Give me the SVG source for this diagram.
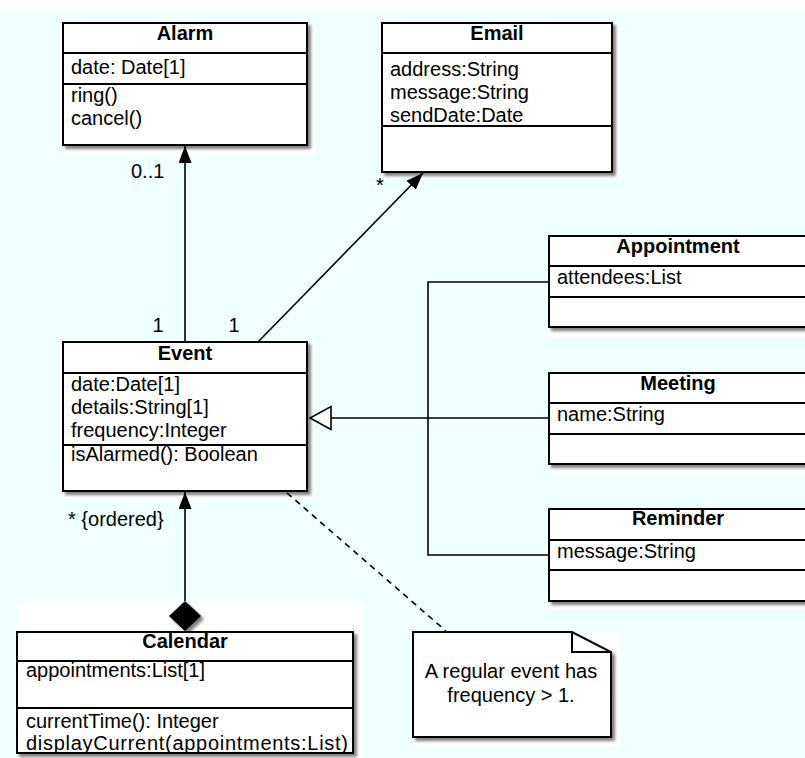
<svg xmlns="http://www.w3.org/2000/svg" width="805" height="758" viewBox="0 0 805 758">
<style>
.bg{fill:#ffffff}
.box{fill:#ffffff;stroke:#000;stroke-width:2}
.div{stroke:#000;stroke-width:2}
.t{font-family:"Liberation Sans",Arial,Helvetica,sans-serif;font-size:20px;fill:#000}
.b{font-weight:bold;text-anchor:middle}
.c{text-anchor:middle}
.ln{stroke:#000;stroke-width:1.6;fill:none}
.dash{stroke:#000;stroke-width:1.6;fill:none;stroke-dasharray:6 5}
</style>
<defs>
<filter id="sh" x="-10%" y="-10%" width="130%" height="130%">
<feDropShadow dx="3" dy="3" stdDeviation="1.8" flood-color="#000" flood-opacity="0.5"/>
</filter>
<marker id="arr" markerUnits="userSpaceOnUse" markerWidth="18" markerHeight="14" refX="17" refY="6.5" orient="auto">
<path d="M0,0 L17,6.5 L0,13 z" fill="#000"/>
</marker>
<marker id="tri" markerUnits="userSpaceOnUse" markerWidth="24" markerHeight="26" refX="22" refY="12.5" orient="auto">
<path d="M1,1 L22,12.5 L1,24 z" fill="#fff" stroke="#000" stroke-width="1.6"/>
</marker>
</defs>
<rect x="0" y="0" width="805" height="758" fill="#ffffff"/>
<rect x="0" y="11" width="805" height="747" fill="#f0ffff"/>
<rect class="bg" x="63" y="23" width="251" height="133"/>
<rect class="bg" x="382" y="23" width="237" height="155"/>
<rect class="bg" x="63" y="342" width="251" height="157"/>
<rect class="bg" x="549" y="236" width="256" height="101"/>
<rect class="bg" x="549" y="373" width="256" height="101"/>
<rect class="bg" x="549" y="509" width="256" height="100"/>
<rect class="bg" x="18" y="601" width="344" height="157"/>
<rect class="bg" x="413" y="632" width="207" height="115"/>

<g id="connectors">
<line class="ln" x1="185" y1="342" x2="185" y2="146" marker-end="url(#arr)"/>
<line class="ln" x1="258" y1="342" x2="423" y2="173" marker-end="url(#arr)"/>
<line class="ln" x1="185" y1="601" x2="185" y2="492" marker-end="url(#arr)"/>
<polygon points="185,601 201,616 185,631 169,616" fill="#000" filter="url(#sh)"/>
<line class="ln" x1="549" y1="418" x2="310" y2="418" marker-end="url(#tri)"/>
<polyline class="ln" points="549,282 428,282 428,555 549,555"/>
<line class="dash" x1="287" y1="493" x2="446" y2="631"/>
<text class="t" x="131" y="178">0..1</text>
<text class="t" x="376" y="192">*</text>
<text class="t c" x="158" y="332">1</text>
<text class="t c" x="234" y="332">1</text>
<text class="t" x="68" y="526">* {ordered}</text>
</g>

<g id="alarm">
<rect class="box" x="63" y="23" width="244" height="122" filter="url(#sh)"/>
<line class="div" x1="63" y1="53" x2="307" y2="53"/>
<line class="div" x1="63" y1="84" x2="307" y2="84"/>
<text class="t b" x="185" y="40">Alarm</text>
<text class="t" x="71" y="74">date: Date[1]</text>
<text class="t" x="71" y="102">ring()</text>
<text class="t" x="71" y="125">cancel()</text>
</g>

<g id="email">
<rect class="box" x="382" y="23" width="230" height="149" filter="url(#sh)"/>
<line class="div" x1="382" y1="53" x2="612" y2="53"/>
<line class="div" x1="382" y1="126" x2="612" y2="126"/>
<text class="t b" x="497" y="40">Email</text>
<text class="t" x="390" y="76">address:String</text>
<text class="t" x="390" y="99">message:String</text>
<text class="t" x="390" y="122">sendDate:Date</text>
</g>

<g id="event">
<rect class="box" x="63" y="342" width="244" height="149" filter="url(#sh)"/>
<line class="div" x1="63" y1="373" x2="307" y2="373"/>
<line class="div" x1="63" y1="445" x2="307" y2="445"/>
<text class="t b" x="185" y="360">Event</text>
<text class="t" x="71" y="391">date:Date[1]</text>
<text class="t" x="71" y="414">details:String[1]</text>
<text class="t" x="71" y="437">frequency:Integer</text>
<text class="t" x="71" y="461">isAlarmed(): Boolean</text>
</g>

<g id="appointment">
<rect class="box" x="549" y="236" width="258" height="91" filter="url(#sh)"/>
<line class="div" x1="549" y1="266" x2="807" y2="266"/>
<line class="div" x1="549" y1="297" x2="807" y2="297"/>
<text class="t b" x="678" y="253">Appointment</text>
<text class="t" x="557" y="284">attendees:List</text>
</g>

<g id="meeting">
<rect class="box" x="549" y="373" width="258" height="91" filter="url(#sh)"/>
<line class="div" x1="549" y1="403" x2="807" y2="403"/>
<line class="div" x1="549" y1="434" x2="807" y2="434"/>
<text class="t b" x="678" y="390">Meeting</text>
<text class="t" x="557" y="421">name:String</text>
</g>

<g id="reminder">
<rect class="box" x="549" y="509" width="258" height="92" filter="url(#sh)"/>
<line class="div" x1="549" y1="540" x2="807" y2="540"/>
<line class="div" x1="549" y1="570" x2="807" y2="570"/>
<text class="t b" x="678" y="525">Reminder</text>
<text class="t" x="557" y="558">message:String</text>
</g>

<g id="calendar">
<rect class="box" x="17" y="632" width="336" height="121" filter="url(#sh)"/>
<line class="div" x1="17" y1="661" x2="353" y2="661"/>
<line class="div" x1="17" y1="708" x2="353" y2="708"/>
<text class="t b" x="185" y="648">Calendar</text>
<text class="t" x="26" y="677">appointments:List[1]</text>
<text class="t" x="26" y="728">currentTime(): Integer</text>
<text class="t" x="26" y="750" textLength="322" lengthAdjust="spacing">displayCurrent(appointments:List)</text>
</g>

<g id="note">
<path d="M413,632 L572,632 L611,652 L611,737 L413,737 Z" fill="#fff" stroke="#000" stroke-width="2" filter="url(#sh)"/>
<path d="M572,632 L572,652 L611,652" fill="none" stroke="#000" stroke-width="2"/>
<text class="t c" x="511" y="678">A regular event has</text>
<text class="t c" x="511" y="702">frequency &gt; 1.</text>
</g>
</svg>
